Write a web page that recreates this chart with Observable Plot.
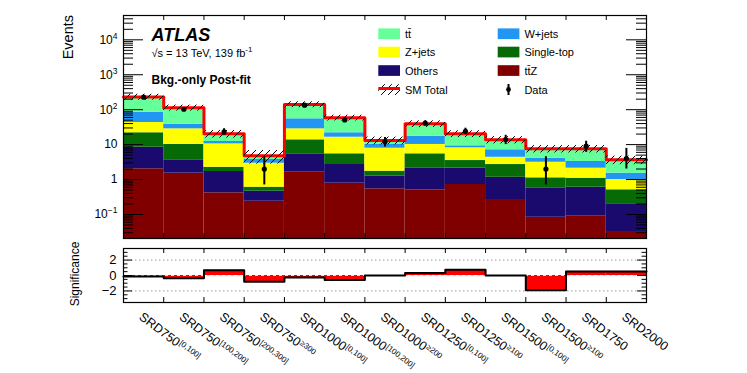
<!DOCTYPE html>
<html><head><meta charset="utf-8">
<script src="https://cdn.jsdelivr.net/npm/d3@7"></script>
<script src="https://cdn.jsdelivr.net/npm/@observablehq/plot@0.6"></script>
<style>
body{margin:0;background:#fff;}
#wrap{position:relative;width:747px;height:373px;overflow:hidden;font-family:"Liberation Sans",Arial,Helvetica,sans-serif;}
#wrap svg{position:absolute;left:0;}
</style></head><body><div id="wrap"></div>
<script>
// ---------- data ----------
const binNames = ["SRD750","SRD750","SRD750","SRD750","SRD1000","SRD1000","SRD1000","SRD1250","SRD1250","SRD1500","SRD1500","SRD1750","SRD2000"];
const binSup   = ["[0,100]","[100,200]","[200,300]","\u2265300","[0,100]","[100,200]","\u2265200","[0,100]","\u2265100","[0,100]","\u2265100","",""];
const ttZ       = [2.03, 1.52, 0.417, 0.239, 1.62, 0.785, 0.542, 0.508, 0.720, 0.268, 0.083, 0.089, 0.0325];
const others    = [6.39, 2.15, 1.28, 0.224, 3.83, 1.91, 0.70, 1.65, 1.39, 0.89, 0.496, 0.514, 0.170];
const singleTop = [13.4, 6.43, 0.55, 0.14, 8.25, 2.76, 0.49, 3.29, 1.39, 1.53, 0.54, 0.49, 0.306];
const zjets     = [21.1, 18.2, 8.25, 2.33, 14.6, 10.85, 6.15, 4.65, 4.59, 1.66, 2.01, 1.02, 0.49];
const wjets     = [41.7, 10.1, 1.8, 0.81, 26.4, 5.5, 2.22, 7.3, 1.14, 2.75, 0.94, 1.17, 0.52];
const ttbar     = [147.4, 74.6, 8.1, 1.04, 86.3, 36.7, 3.0, 22.0, 11.17, 6.6, 3.5, 4.29, 2.15];
const totalUnc  = [45, 22, 5, 2.0, 27, 11, 3.3, 8.5, 4.5, 3.2, 1.8, 1.8, 1.0];
const dataObs   = [228, 103, 23, 2, 135, 51, 12, 41, 24, 14, 2, 9, 4];
const dataLo    = [213, 93, 18.5, 0.7, 124, 44, 8.5, 35, 19.5, 10, 0.7, 6.0, 2.0];
const dataHi    = [244, 114, 28.5, 4.5, 147, 59, 16, 47.5, 29.5, 18.5, 4.5, 12.5, 7.8];
const significance = [-0.13, -0.36, 0.67, -0.8, -0.27, -0.58, 0.0, 0.31, 0.76, 0.0, -1.9, 0.53, 0.53];
const yTickValues = [0.1, 1, 10, 100, 1000, 10000];
const yTickBase   = ["10", "1", "10", "10", "10", "10"];
const yTickExp    = ["\u22121", "", "", "2", "3", "4"];
const sigTicks = [-2, 0, 2];

// ---------- setup ----------
const FONT = '"Liberation Sans", Arial, Helvetica, sans-serif';
const nB = binNames.length;
const idx = d3.range(nB);
const comps = [
  {vals: ttZ, color: "#800000"},
  {vals: others, color: "#1B0A6E"},
  {vals: singleTop, color: "#066B06"},
  {vals: zjets, color: "#FFFF00"},
  {vals: wjets, color: "#2196F3"},
  {vals: ttbar, color: "#66FF99"}
];
const yMin = 0.0205, yMax = 4.97e4;
const pxX = 523 / 13;          // px per bin
const decPx = 34.93;           // px per decade
const stackRows = [];
idx.forEach(i => {
  let cum = 0;
  comps.forEach(c => {
    const lo = cum; cum += c.vals[i];
    stackRows.push({i, lo: lo === 0 ? yMin / 10 : lo, hi: cum, color: c.color});
  });
});
const totals = idx.map(i => comps.reduce((s, c) => s + c.vals[i], 0));
const stepPts = idx.flatMap(i => [{x: i, y: totals[i]}, {x: i + 1, y: totals[i]}]);
const sigPts = idx.flatMap(i => [{x: i, y: significance[i]}, {x: i + 1, y: significance[i]}]);

const yMinor = [];
for (let k = -2; k <= 4; k++) for (let m = 2; m <= 9; m++) {
  const v = m * Math.pow(10, k);
  if (v > yMin && v < yMax) yMinor.push(v);
}
const edges = d3.range(1, nB);
const tMaj = 20 / pxX, tMin = 10 / pxX;
const xt = Math.pow(10, 5 / decPx);

const upper = Plot.plot({
  width: 747, height: 240,
  marginLeft: 123, marginRight: 101, marginTop: 15, marginBottom: 2,
  style: {fontFamily: FONT, background: "transparent", color: "black"},
  x: {domain: [0, 13], axis: null},
  y: {type: "log", domain: [yMin, yMax], label: null},
  color: {type: "identity"},
  marks: [
    Plot.rect(stackRows, {x1: d => d.i, x2: d => d.i + 1, y1: "lo", y2: "hi", fill: "color", clip: true}),
    Plot.line(stepPts, {x: "x", y: "y", stroke: "#FF0000", strokeWidth: 3}),
    Plot.rect(idx, {x1: i => i, x2: i => i + 1, y1: i => totals[i] - totalUnc[i], y2: i => totals[i] + totalUnc[i], fill: "url(#hatchBand)", clip: true}),
    Plot.ruleX(idx, {x: i => i + 0.5, y1: i => dataLo[i], y2: i => dataHi[i], stroke: "black", strokeWidth: 2}),
    Plot.dot(idx, {x: i => i + 0.5, y: i => dataObs[i], r: 2.6, fill: "black", stroke: "none"}),
    Plot.ruleY(yTickValues, {x1: 0, x2: tMaj, stroke: "black"}),
    Plot.ruleY(yTickValues, {x1: 13 - tMaj, x2: 13, stroke: "black"}),
    Plot.ruleY(yMinor, {x1: 0, x2: tMin, stroke: "black"}),
    Plot.ruleY(yMinor, {x1: 13 - tMin, x2: 13, stroke: "black"}),
    Plot.ruleX(edges, {y1: yMin, y2: yMin * xt, stroke: "black"}),
    Plot.ruleX(edges, {y1: yMax / xt, y2: yMax, stroke: "black"}),
    Plot.frame({stroke: "black", strokeWidth: 1.2}),
    Plot.axisY(yTickValues, {tickSize: 0, tickPadding: 6, fontSize: 12, fill: "black", label: null,
      tickFormat: v => yTickBase[yTickValues.indexOf(v)]})
  ]
});
d3.select(upper).insert("defs", ":first-child").html(
  '<pattern id="hatchBand" patternUnits="userSpaceOnUse" width="7" height="7">' +
  '<path d="M-1,1 l2,-2 M0,7 l7,-7 M6,8 l2,-2" stroke="black" stroke-width="1"/></pattern>');
d3.select(upper).selectAll('g[aria-label="y-axis tick label"] text').each(function (d) {
  const e = yTickExp[d];
  if (e) d3.select(this).append("tspan").attr("dy", -5).attr("font-size", 8.5).text(e);
});

// ---------- lower panel ----------
const sPx = 54 / 7;
const sMinor = d3.range(-3.5, 3.51, 0.5).filter(v => !sigTicks.includes(v));
const lower = Plot.plot({
  width: 747, height: 133,
  marginLeft: 123, marginRight: 101, marginTop: 8, marginBottom: 71,
  style: {fontFamily: FONT, background: "transparent", color: "black"},
  x: {domain: [0, 13], axis: null},
  y: {domain: [-3.5, 3.5], label: null},
  marks: [
    Plot.ruleY([-2, 2], {x1: 0, x2: 13, stroke: "#999", strokeDasharray: "1.5,2.5"}),
    Plot.rect(idx, {x1: i => i, x2: i => i + 1, y1: 0, y2: i => significance[i], fill: "#FF0000"}),
    Plot.ruleY([0], {x1: 0, x2: 13, stroke: "#ddd", strokeDasharray: "3,3"}),
    Plot.line(sigPts, {x: "x", y: "y", stroke: "black", strokeWidth: 2}),
    Plot.ruleY(sigTicks, {x1: 0, x2: 9 / pxX, stroke: "black"}),
    Plot.ruleY(sigTicks, {x1: 13 - 9 / pxX, x2: 13, stroke: "black"}),
    Plot.ruleY(sMinor, {x1: 0, x2: 4.5 / pxX, stroke: "black"}),
    Plot.ruleY(sMinor, {x1: 13 - 4.5 / pxX, x2: 13, stroke: "black"}),
    Plot.ruleX(edges, {y1: -3.5, y2: -3.5 + 5 / sPx, stroke: "black"}),
    Plot.ruleX(edges, {y1: 3.5 - 5 / sPx, y2: 3.5, stroke: "black"}),
    Plot.frame({stroke: "black", strokeWidth: 1.2}),
    Plot.axisY(sigTicks, {tickSize: 0, tickPadding: 7, fontSize: 13, fill: "black", label: null,
      tickFormat: d => d3.format("d")(d)}),
    Plot.text(idx, {x: i => i + 0.5, text: i => binNames[i], frameAnchor: "bottom", dy: 9,
      rotate: 37, textAnchor: "start", lineAnchor: "top", fontSize: 12.5, fill: "black"})
  ]
});
d3.select(lower).selectAll("text").each(function (d) {
  const tr = this.getAttribute("transform") || "";
  if (tr.indexOf("rotate(37") < 0) return;
  const s = binSup[d];
  if (s) d3.select(this).append("tspan").attr("dy", -4).attr("dx", 0.5).attr("font-size", 8).text(s);
});

const wrap = document.getElementById("wrap");
upper.style.top = "0px";
lower.style.top = "240px";
wrap.appendChild(upper);
wrap.appendChild(lower);

// ---------- overlay texts & legend ----------
const ov = d3.select(wrap).append("svg").attr("width", 747).attr("height", 373)
  .style("top", "0px").attr("font-family", FONT);
ov.append("defs").html(
  '<pattern id="hatchLeg" patternUnits="userSpaceOnUse" width="7" height="7">' +
  '<path d="M-1,1 l2,-2 M0,7 l7,-7 M6,8 l2,-2" stroke="black" stroke-width="1"/></pattern>');
ov.append("text").attr("x", 151.5).attr("y", 40.7).attr("font-size", 18)
  .attr("font-weight", "bold").attr("font-style", "italic").text("ATLAS");
const lumi = ov.append("text").attr("x", 151.5).attr("y", 57).attr("font-size", 11);
lumi.append("tspan").text("\u221As = 13 TeV, 139 fb");
lumi.append("tspan").attr("dy", -5).attr("font-size", 8).text("-1");
ov.append("text").attr("x", 151.5).attr("y", 83.5).attr("font-size", 12)
  .attr("font-weight", "bold").text("Bkg.-only Post-fit");
ov.append("text").attr("transform", "translate(73,15) rotate(-90)").attr("text-anchor", "end")
  .attr("font-size", 14.5).text("Events");
ov.append("text").attr("transform", "translate(79,274) rotate(-90)").attr("text-anchor", "middle")
  .attr("font-size", 12).text("Significance");

const legItems = [
  {col: 0, row: 0, label: "tt\u0304", color: "#66FF99"},
  {col: 0, row: 1, label: "Z+jets", color: "#FFFF00"},
  {col: 0, row: 2, label: "Others", color: "#1B0A6E"},
  {col: 0, row: 3, label: "SM Total", type: "sm"},
  {col: 1, row: 0, label: "W+jets", color: "#2196F3"},
  {col: 1, row: 1, label: "Single-top", color: "#066B06"},
  {col: 1, row: 2, label: "tt\u0304Z", color: "#800000"},
  {col: 1, row: 3, label: "Data", type: "data"}
];
const rowY = [33.7, 52, 70.5, 89.5];
const colX = [378.3, 497.7];
legItems.forEach(it => {
  const x = colX[it.col], cy = rowY[it.row];
  if (it.type === "sm") {
    ov.append("rect").attr("x", x).attr("y", cy - 5.3).attr("width", 21.7).attr("height", 10.7).attr("fill", "url(#hatchLeg)");
    ov.append("line").attr("x1", x).attr("x2", x + 21.7).attr("y1", cy - 1).attr("y2", cy - 1).attr("stroke", "#FF0000").attr("stroke-width", 3);
  } else if (it.type === "data") {
    ov.append("line").attr("x1", x + 10.8).attr("x2", x + 10.8).attr("y1", cy - 5.5).attr("y2", cy + 5.5).attr("stroke", "black").attr("stroke-width", 2);
    ov.append("circle").attr("cx", x + 10.8).attr("cy", cy).attr("r", 2.4).attr("fill", "black");
  } else {
    ov.append("rect").attr("x", x).attr("y", cy - 5.3).attr("width", 21.7).attr("height", 10.7).attr("fill", it.color);
  }
  ov.append("text").attr("x", x + 26.7).attr("y", cy + 4).attr("font-size", 11).text(it.label);
});
</script></body></html>
